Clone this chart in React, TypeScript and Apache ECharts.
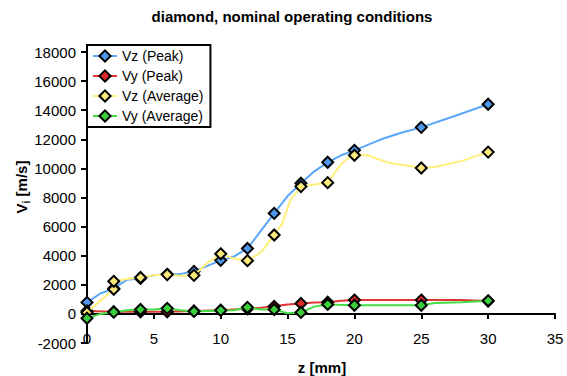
import React, { useEffect, useRef } from "react";
import * as echarts from "echarts";

// Marker points (z in mm, velocity in m/s)
const zMarks = [0, 2, 4, 6, 8, 10, 12, 14, 16, 18, 20, 25, 30];
const vzPeakMarks = [790, 1750, 2440, 2720, 2920, 3680, 4500, 6910, 8980, 10420, 11240, 12820, 14410];
const vyPeakMarks = [200, 150, 150, 150, 200, 250, 350, 520, 720, 800, 950, 950, 880];
const vzAvgMarks = [100, 1690, 2500, 2700, 2650, 4130, 3660, 5420, 8750, 9020, 10900, 10030, 11120];
const vyAvgMarks = [-300, 120, 300, 380, 170, 240, 450, 300, 100, 650, 590, 590, 900];

// Additional marked point (second reading at z = 2 for Vz average)
const vzAvgExtraMarks: [number, number][] = [[2, 2240]];

// Extra (unmarked) points of the measured curves
const vzPeakExtra: [number, number][] = [[1, 1400], [3, 2350], [5, 2650], [7, 2750], [9, 3300], [11, 3950], [13, 5700], [15, 8100], [17, 9800], [19, 10900], [22, 12000], [23.5, 12450], [27.5, 13600]];
const vyPeakExtra: [number, number][] = [[13, 420], [15, 650], [17, 780], [19, 900], [28, 950]];
const vzAvgExtra: [number, number][] = [[3, 2400], [5, 2650], [7, 2600], [9, 3500], [11, 3800], [13, 4230], [14.6, 6200], [15.2, 7800], [17, 8900], [19, 10300], [19.7, 10800], [21, 10900], [22.5, 10400], [26, 10100], [28, 10500]];
const vyAvgExtra: [number, number][] = [[1, 0], [3, 250], [5, 300], [7, 250], [11, 250], [13, 300], [15, 50], [17, 500], [26, 750], [28, 800]];

const xTicks = { min: 0, max: 35, interval: 5 };
const yTicks = { min: -2000, max: 18000, interval: 2000 };

const seriesNames = ["Vz (Peak)", "Vy (Peak)", "Vz (Average)", "Vy (Average)"];
const lineColors = ["#5aa6f8", "#e03535", "#fff07a", "#44dd44"];
const markerColors = ["#4f97ea", "#e02a2a", "#fbe97a", "#3ccf3c"];

function buildData(marks: number[], extra: [number, number][], extraMarks: [number, number][] = []) {
  const pts: { value: [number, number]; symbol?: string; k: number }[] = [];
  zMarks.forEach((z, i) => pts.push({ value: [z, marks[i]], k: 0 }));
  extraMarks.forEach(([z, v]) => pts.push({ value: [z, v], k: 1 }));
  extra.forEach(([z, v]) => pts.push({ value: [z, v], symbol: "none", k: 2 }));
  pts.sort((a, b) => a.value[0] - b.value[0] || a.k - b.k);
  return pts.map((p) => (p.symbol ? { value: p.value, symbol: "none" } : { value: p.value }));
}

const FONT = "Arial, 'Liberation Sans', Helvetica, sans-serif";

export default function App() {
  const ref = useRef<HTMLDivElement>(null);
  useEffect(() => {
    if (!ref.current) return;
    const chart = echarts.init(ref.current, undefined, { renderer: "svg" });
    const datasets = [
      buildData(vzPeakMarks, vzPeakExtra),
      buildData(vyPeakMarks, vyPeakExtra),
      buildData(vzAvgMarks, vzAvgExtra, vzAvgExtraMarks),
      buildData(vyAvgMarks, vyAvgExtra),
    ];
    chart.setOption({
      animation: false,
      backgroundColor: "#ffffff",
      textStyle: { fontFamily: FONT },
      grid: { left: 87, right: 12, top: 52, bottom: 33, containLabel: false, outerBoundsMode: "none" },
      legend: {
        orient: "vertical",
        left: 87,
        top: 45,
        data: seriesNames,
        backgroundColor: "#ffffff",
        borderColor: "#000000",
        borderWidth: 2,
        borderRadius: 0,
        padding: [4, 7, 4, 5],
        itemGap: 6,
        itemWidth: 24,
        itemHeight: 14,
        textStyle: { fontSize: 14, color: "#000", fontFamily: FONT },
        selectedMode: false,
      },
      xAxis: {
        type: "value",
        min: xTicks.min,
        max: xTicks.max,
        interval: xTicks.interval,
        axisLine: { show: true, onZero: true, lineStyle: { color: "#000", width: 2 } },
        axisTick: { show: true, length: 5, lineStyle: { color: "#000", width: 2 } },
        axisLabel: { fontSize: 15, color: "#000", margin: -12, fontFamily: FONT },
        splitLine: { show: false },
      },
      yAxis: {
        type: "value",
        min: yTicks.min,
        max: yTicks.max,
        interval: yTicks.interval,
        axisLine: { show: true, onZero: false, lineStyle: { color: "#000", width: 2 } },
        axisTick: { show: true, length: 6, lineStyle: { color: "#000", width: 2 } },
        axisLabel: { fontSize: 15, color: "#000", margin: 11, fontFamily: FONT, formatter: (v: number) => String(v) },
        splitLine: { show: false },
      },
      graphic: [
        {
          type: "text",
          x: 292,
          y: 16,
          style: {
            text: "diamond, nominal operating conditions",
            font: `bold 15px ${FONT}`,
            fill: "#000",
            align: "center",
            verticalAlign: "middle",
          },
        },
        {
          type: "text",
          x: 322,
          y: 367,
          style: {
            text: "z [mm]",
            font: `bold 15px ${FONT}`,
            fill: "#000",
            align: "center",
            verticalAlign: "middle",
          },
        },
        {
          type: "text",
          x: 21,
          y: 187,
          rotation: Math.PI / 2,
          style: {
            text: "{a|V}{b|i}{a| [m/s]}",
            fill: "#000",
            align: "center",
            verticalAlign: "middle",
            rich: {
              a: { fontSize: 15, fontWeight: "bold", fontFamily: FONT, fill: "#000", verticalAlign: "bottom" },
              b: { fontSize: 10, fontWeight: "bold", fontFamily: FONT, fill: "#000", verticalAlign: "bottom", padding: [0, 0, -3, 0] },
            },
          },
        },
      ],
      series: seriesNames.map((name, i) => ({
        name,
        type: "line",
        data: datasets[i],
        symbol: "diamond",
        symbolSize: 11,
        showAllSymbol: true,
        lineStyle: { color: lineColors[i], width: 2 },
        itemStyle: { color: markerColors[i], borderColor: "#000", borderWidth: 2 },
        emphasis: { disabled: true },
        z: 2 + i,
      })),
    });
    return () => chart.dispose();
  }, []);
  return <div ref={ref} style={{ position: "fixed", left: 0, top: 0, width: 567, height: 376 }} />;
}
